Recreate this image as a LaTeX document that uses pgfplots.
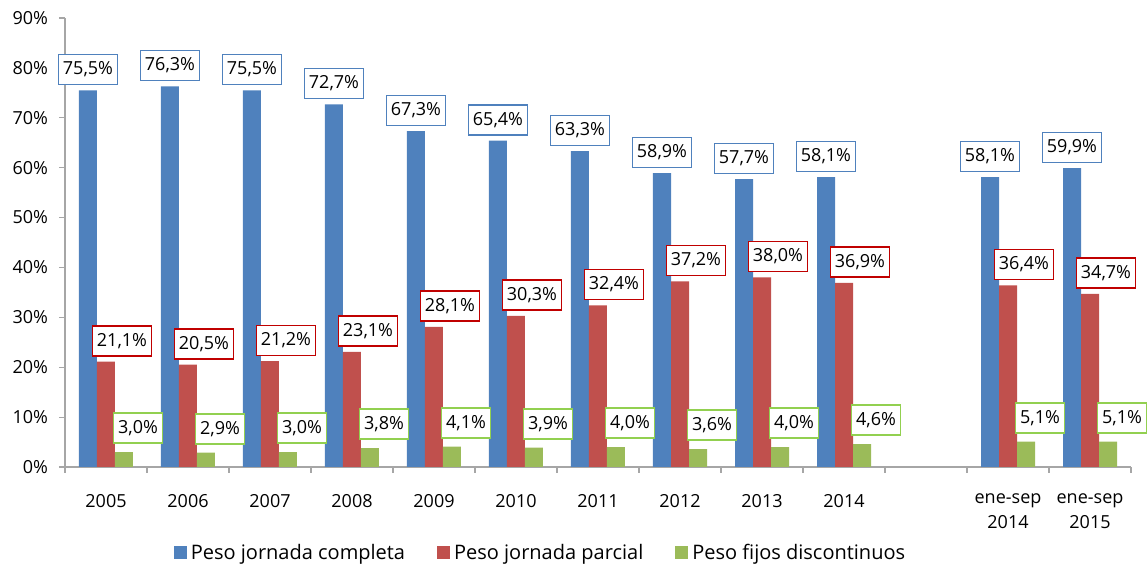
\documentclass[border=0pt]{standalone}
\usepackage{pgfplots}
\pgfplotsset{compat=1.18}
\usepackage{fontspec}
\setmainfont{Open Sans}
\definecolor{cblue}{HTML}{4F81BD}
\definecolor{cred}{HTML}{C0504D}
\definecolor{cgreen}{HTML}{9BBB59}
\definecolor{lblue}{HTML}{4F81BD}
\definecolor{lred}{HTML}{C00000}
\definecolor{lgreen}{HTML}{92D050}
\definecolor{axgray}{HTML}{A6A6A6}
\newcommand{\chartfont}{\fontsize{9}{12.5}\selectfont}
\newcommand{\legfont}{\fontsize{10}{12}\selectfont}
\begin{document}
\begin{tikzpicture}
\useasboundingbox (-32.5pt,-49.5pt) rectangle (541.5pt,233.5pt);
\begin{axis}[
  at={(0,0)}, anchor=south west,
  scale only axis, width=533pt, height=224.5pt,
  xmin=-0.5, xmax=12.5, ymin=0, ymax=90,
  ybar=0pt, bar width=9pt,
  axis lines*=left,
  axis line style={draw=axgray, line width=0.6pt},
  /pgf/number format/assume math mode=true,
  xtick={0,1,2,3,4,5,6,7,8,9,11,12},
  xticklabels={2005,2006,2007,2008,2009,2010,2011,2012,2013,2014,{ene-sep\\2014},{ene-sep\\2015}},
  minor xtick={-0.5,0.5,...,12.5},
  major x tick style={draw=none},
  minor x tick style={draw=axgray, line width=0.6pt},
  minor tick length=3pt,
  major tick length=3pt,
  tick align=outside,
  y tick style={draw=axgray, line width=0.6pt},
  ytick={0,10,...,90},
  yticklabel={\pgfmathprintnumber{\tick}\%},
  tick label style={font=\chartfont},
  yticklabel style={xshift=-2pt},
  xticklabel style={align=center, anchor=north, yshift=-7pt},
  nodes near coords={\pgfmathprintnumber[fixed,fixed zerofill,precision=1,use comma]{\pgfplotspointmeta}\%},
  every node near coord/.append style={font=\chartfont, text=black, fill=white, inner xsep=2.2pt, inner ysep=0pt, minimum height=15pt, anchor=south, line width=0.8pt},
  legend style={at={(0.447,-0.1915)}, anchor=center, draw=none, font=\legfont, legend columns=3,
    /tikz/every even column/.append style={column sep=14pt}},
  legend image code/.code={\fill[#1] (0pt,-3pt) rectangle (6.5pt,3.5pt);},
]
\addplot[fill=cblue, draw=none, every node near coord/.append style={draw=lblue, yshift=2.5pt}] coordinates {
(0,75.5) (1,76.3) (2,75.5) (3,72.7) (4,67.3) (5,65.4) (6,63.3) (7,58.9) (8,57.7) (9,58.1) (11,58.1) (12,59.9)};
\addplot[fill=cred, draw=none, every node near coord/.append style={draw=lred, xshift=8pt, yshift=2.5pt}] coordinates {
(0,21.1) (1,20.5) (2,21.2) (3,23.1) (4,28.1) (5,30.3) (6,32.4) (7,37.2) (8,38.0) (9,36.9) (11,36.4) (12,34.7)};
\addplot[fill=cgreen, draw=none, every node near coord/.append style={draw=lgreen, xshift=7pt, yshift=4pt}] coordinates {
(0,3.0) (1,2.9) (2,3.0) (3,3.8) (4,4.1) (5,3.9) (6,4.0) (7,3.6) (8,4.0) (9,4.6) (11,5.1) (12,5.1)};
\legend{Peso jornada completa, Peso jornada parcial, Peso fijos discontinuos}
\end{axis}
\end{tikzpicture}
\end{document}
